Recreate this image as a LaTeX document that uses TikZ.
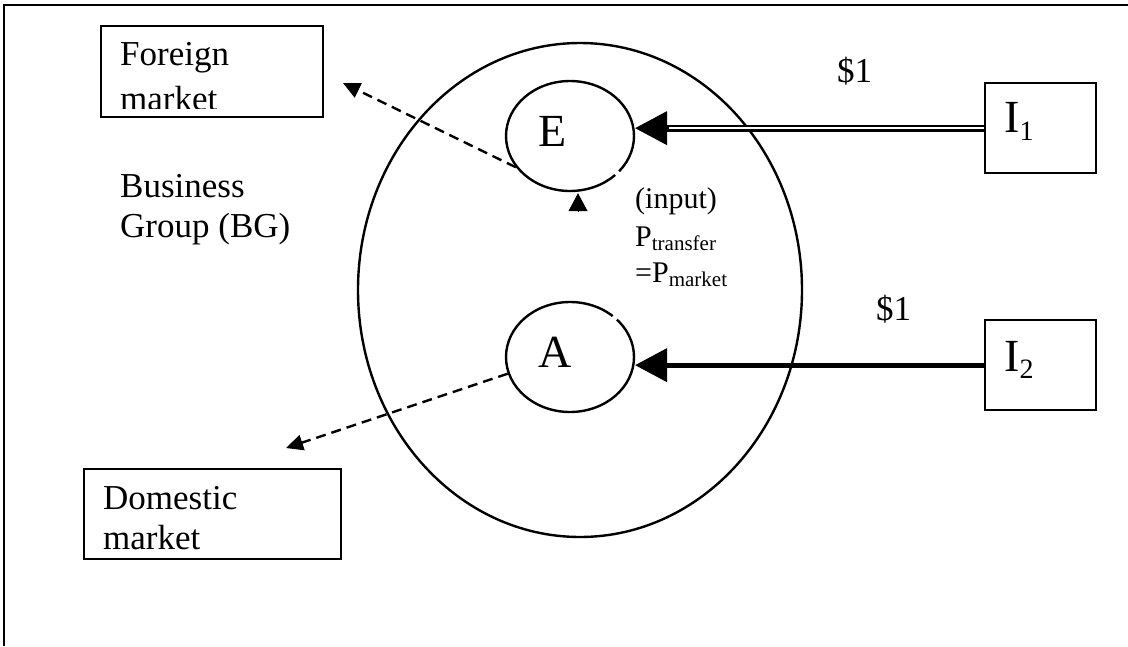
\documentclass[tikz,border=0pt]{standalone}
\usepackage{fontspec}
\setmainfont{Liberation Serif}
\usetikzlibrary{arrows.meta,shapes.geometric,calc}
\begin{document}
\begin{tikzpicture}[x=1pt,y=-1pt,
  txt/.style={anchor=base west, inner sep=0pt, font=\fontsize{35}{40}\selectfont},
  small/.style={anchor=base west, inner sep=0pt, font=\fontsize{30}{36}\selectfont},
  letter/.style={anchor=base west, inner sep=0pt, font=\fontsize{46}{50}\selectfont},
  box/.style={draw, line width=2.3pt, anchor=north west, inner sep=0pt},
  oval/.style={draw, ellipse, line width=2.4pt, inner sep=0pt},
  gap/.style={white, line width=5pt},
  bigtip/.style={-{Triangle[length=32pt,width=34pt,line width=1pt]}},
  dashflow/.style={line width=2.4pt, dash pattern=on 10pt off 6pt,
                   -{Triangle[length=17pt,width=16pt,line width=1pt]}},
]
\useasboundingbox (0,0) rectangle (1128,646);

% outer frame (left and top edges)
\draw[line width=2.5pt] (4,646) -- (4,5) -- (1128,5);

% markets
\node[box, minimum width=222pt, minimum height=91pt] (fm) at (100,25) {};
\begin{scope}
  \clip (fm.north west) rectangle ([yshift=10pt]fm.south east);
  \node[txt] (fm1) at (120,65) {Foreign};
  \node[txt] (fm2) at (120,110) {market};
\end{scope}
\node[box, minimum width=257pt, minimum height=90pt] (dm) at (83,468) {};
\node[txt] (dm1) at (103,509) {Domestic};
\node[txt] (dm2) at (103,549) {market};

% business group
\node[oval, minimum width=444pt, minimum height=494pt] (bg) at (580,290) {};
\node[txt] (bg1) at (120,197) {Business};
\node[txt] (bg2) at (120,237) {Group (BG)};

% firms E and A, each outline with a small break
\node[oval, minimum width=128pt, minimum height=110pt] (E) at (570,136) {};
\draw[gap] (E.center) ++(40:64 and 55) arc[start angle=40, end angle=45, x radius=64, y radius=55];
\node[letter] (Et) at (538,146) {E};
\node[oval, minimum width=128pt, minimum height=110pt] (A) at (570,357) {};
\draw[gap] (A.center) ++(-48:64 and 55) arc[start angle=-48, end angle=-43, x radius=64, y radius=55];
\node[letter] (At) at (538,367) {A};

% investors
\node[box, minimum width=111pt, minimum height=90pt] (I1) at (984,82) {};
\node[letter] (I1t) at (1004,132) {I\raisebox{-8pt}{\fontsize{28}{28}\selectfont 1}};
\node[box, minimum width=111pt, minimum height=90pt] (I2) at (984,319) {};
\node[letter] (I2t) at (1004,371) {I\raisebox{-7pt}{\fontsize{28}{28}\selectfont 2}};

\node[txt] (d1) at (837,82) {\$1};
\node[txt] (d2) at (876,320) {\$1};

% transfer price note
\node[small] (n1) at (635,208) {(input)};
\node[small] (n2) at (635,246) {P\raisebox{-4pt}{\fontsize{21}{21}\selectfont transfer}};
\node[small] (n3) at (635,282) {=P\raisebox{-4pt}{\fontsize{21}{21}\selectfont market}};

% funding flows
\coordinate (eIn) at (E.east |- I1.west);
\draw[double, line width=2.2pt, double distance=2.4pt, shorten >=30pt] (I1.west) -- (eIn);
\draw[line width=2pt, bigtip] ($(eIn)+(34,0)$) -- (eIn);
\draw[line width=5pt, bigtip] (I2.west) -- (A.east |- I2.west);

% input supply
\coordinate (upTip) at ($(E.south)+(8,1)$);
\draw[line width=1pt, -{Triangle[length=18pt,width=19pt,line width=1pt]}] ($(upTip)+(0,18)$) -- (upTip);

% sales
\coordinate (fTip) at (343,83);
\draw[dashflow] (E.210) -- (fTip);
\coordinate (dTip) at (286,448);
\draw[dashflow] (A.195) -- (dTip);
\end{tikzpicture}
\end{document}
